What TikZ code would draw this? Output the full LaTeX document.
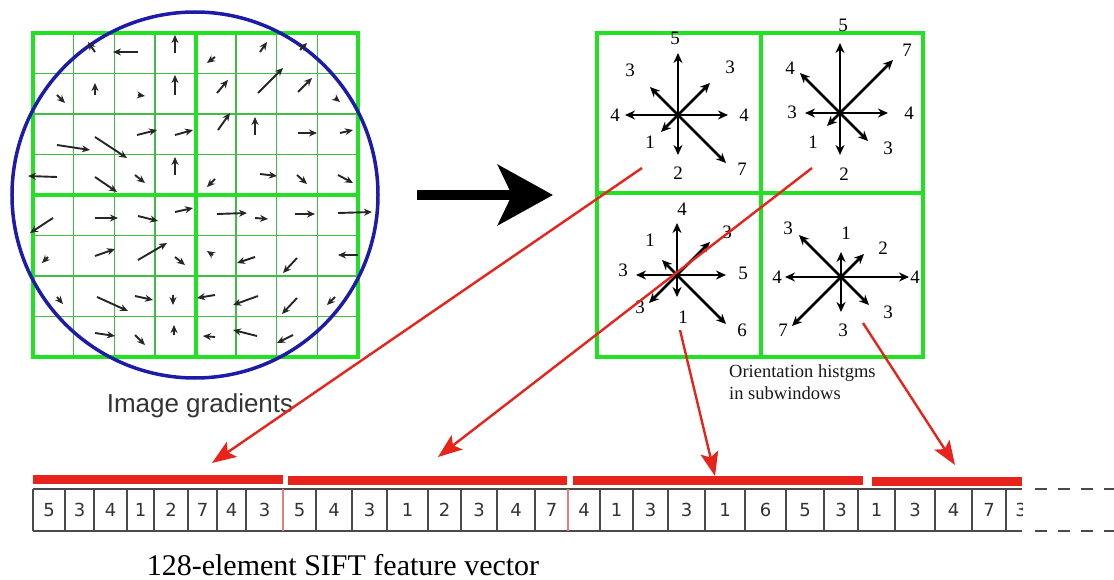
\documentclass[tikz,border=0pt]{standalone}
\usepackage{fontspec}
\setmainfont{Liberation Serif}
\newfontfamily\gradfont{Liberation Sans}
\newfontfamily\cellfont{DejaVu Sans}
\usepackage{tikz}
\usetikzlibrary{
arrows.meta
}
\definecolor{siftgreen}{HTML}{22E022}
\definecolor{siftthin}{HTML}{40BE40}
\definecolor{siftblue}{HTML}{1C1CA8}
\definecolor{siftred}{HTML}{E8231B}
\definecolor{siftgray}{HTML}{4A4A4A}

\begin{document}
\begin{tikzpicture}[
  x=1pt, y=-1pt,
  thickgrid/.style={siftgreen, line width=4pt},
  thingrid/.style={siftthin, line width=1.3pt},
  grad/.style={-{Stealth[length=8pt, width=7pt]}, line width=1.9pt, black!85},
  harrow/.style={-{Stealth[length=10pt, width=9pt]}, line width=2.8pt},
  hnum/.style={font=\fontsize{19}{19}\selectfont, inner sep=0pt},
  cell/.style={draw=siftgray, line width=1.2pt},
  cnum/.style={font=\cellfont\fontsize{18}{18}\selectfont, inner sep=0pt, text=black!80},
  redbar/.style={siftred, line width=9pt},
  redarrow/.style={-{Stealth[length=24pt, width=18pt, inset=5pt]}, siftred, line width=2.4pt}
]
\useasboundingbox (0,0) rectangle (1114,580);

% Image gradients (left window)
\foreach \k in {1,2,3,5,6,7} {
  \draw[thingrid] ({33+\k*40.625},33) -- ++(0,324);
  \draw[thingrid] (33,{33+\k*40.5}) -- ++(325,0);
}
\draw[thickgrid] (33,33) rectangle (358,357);
\draw[thickgrid] (195.5,33) -- (195.5,357);
\draw[thickgrid] (33,195) -- (358,195);
\draw[siftblue, line width=3.5pt] (195,195) circle[radius=183pt];

\foreach \ax/\ay/\bx/\by in {
  95/52/88/42, 138/52/113/52, 175/53/175/35, 215/57/207/63, 260/52/267/42, 300/50/307/43,
  57/95/65/103, 95/95/95/83, 138/95/145/96, 175/95/175/75, 217/93/228/80, 258/93/283/68, 298/92/312/78, 335/98/340/102,
  57/145/90/150, 95/137/127/158, 137/135/157/130, 175/135/193/130, 218/130/230/113, 255/135/255/117, 298/133/317/133, 340/133/353/130,
  57/177/28/176, 95/177/117/192, 135/175/145/183, 175/175/175/157, 215/179/207/187, 260/174/277/176, 297/175/307/184, 338/175/353/183,
  53/218/30/233, 95/218/118/218, 138/216/158/221, 175/212/193/208, 217/214/247/213, 255/218/268/219, 295/214/315/214, 338/213/372/212,
  48/257/42/263, 95/256/115/249, 138/260/167/243, 175/257/185/265, 213/255/207/251, 255/257/237/263, 297/258/283/273, 358/255/338/255,
  57/297/63/304, 97/297/128/311, 135/296/153/300, 173/295/173/305, 215/295/197/298, 258/296/233/305, 297/298/282/314, 335/297/327/305,
  95/333/115/336, 135/335/145/345, 174/335/174/325, 215/337/203/336, 257/336/233/330, 293/335/277/343}
  \draw[grad] (\ax,\ay) -- (\bx,\by);

\node[font=\gradfont\fontsize{26}{26}\selectfont, text=black!80, anchor=base] (imglabel) at (200,412) {Image gradients};

% Big arrow
\coordinate (bigs) at (417,195);
\coordinate (bige) at (553,195);
\draw[line width=10pt, -{Stealth[length=55pt, width=60pt, inset=14pt]}] (bigs) -- (bige);

% Orientation histograms (right window)
\draw[thickgrid] (597,33) rectangle (923,357);
\draw[thickgrid] (761,33) -- (761,357);
\draw[thickgrid] (597,193) -- (923,193);

\coordinate (hTL) at (678,115);
\coordinate (hTR) at (840,113);
\coordinate (hBL) at (677,275);
\coordinate (hBR) at (841,277);

\foreach \dx/\dy/\lx/\ly/\n [count=\i] in {0/-62/-3/-77/5, 32/-32/52/-48/3, 50/0/66/0/4, 48/48/64/54/7,
  0/40/0/58/2, -17/17/-28/27/1, -53/0/-63/0/4, -28/-28/-48/-45/3} {
  \draw[harrow] (hTL) -- ++(\dx,\dy);
  \node[hnum] (tl\i) at ([shift={(\lx,\ly)}]hTL) {\n};
}
\foreach \dx/\dy/\lx/\ly/\n [count=\i] in {0/-70/3/-88/5, 53/-53/67/-63/7, 48/0/69/0/4, 28/28/48/35/3,
  0/42/4/61/2, -13/13/-27/29/1, -35/0/-48/-1/3, -40/-40/-50/-45/4} {
  \draw[harrow] (hTR) -- ++(\dx,\dy);
  \node[hnum] (tr\i) at ([shift={(\lx,\ly)}]hTR) {\n};
}
\foreach \dx/\dy/\lx/\ly/\n [count=\i] in {0/-52/5/-66/4, 33/-33/50/-43/3, 49/0/66/-2/5, 49/49/65/55/6,
  0/22/6/42/1, -28/28/-37/32/3, -41/0/-54/-5/3, -15/-15/-27/-35/1} {
  \draw[harrow] (hBL) -- ++(\dx,\dy);
  \node[hnum] (bl\i) at ([shift={(\lx,\ly)}]hBL) {\n};
}
\foreach \dx/\dy/\lx/\ly/\n [count=\i] in {0/-25/5/-44/1, 23/-23/42/-29/2, 68/0/74/0/4, 28/28/47/35/3,
  0/35/2/53/3, -49/49/-58/53/7, -56/0/-64/0/4, -42/-42/-53/-49/3} {
  \draw[harrow] (hBR) -- ++(\dx,\dy);
  \node[hnum] (br\i) at ([shift={(\lx,\ly)}]hBR) {\n};
}

\node[font=\fontsize{18.5}{22}\selectfont, align=left, anchor=north west, inner sep=0pt, text=black!90] (orilabel) at (729,364) {Orientation histgms\\in subwindows};

% Feature vector
\draw[cell] (33,489) -- (1022,489);
\draw[cell] (33,531) -- (1022,531);
\draw[cell] (33,489) -- (33,531);
\foreach \a/\b/\d [count=\i] in {
  33/65/5, 65/94/3, 94/127/4, 127/154/1, 154/188/2, 188/217/7, 217/246/4, 246/283/3,
  283/316/5, 316/352/4, 352/387/3, 387/428/1, 428/461/2, 461/497/3, 497/535/4, 535/568/7,
  568/600/4, 600/633/1, 633/668/3, 668/705/3, 705/745/1, 745/786/6, 786/824/5, 824/858/3,
  858/895/1, 895/935/3, 935/972/4, 972/1006/7} {
  \node[cnum] (v\i) at ({(\a+\b)/2},510) {\d};
  \draw[cell] (\b,489) -- (\b,531);
}
\draw[siftred!60, line width=1.2pt] (283,489) -- (283,531);
\draw[siftred!60, line width=1.2pt] (568,489) -- (568,531);
\begin{scope}
  \clip (1006,480) rectangle (1022,540);
  \node[cnum] (v29) at (1021,510) {3};
\end{scope}
\draw[cell, dash pattern=on 12pt off 11pt] (1035,489) -- (1114,489);
\draw[cell, dash pattern=on 12pt off 11pt] (1035,531) -- (1114,531);

\node[font=\fontsize{30}{30}\selectfont, anchor=base] (veclabel) at (343,575) {128-element SIFT feature vector};

% Red bars over the vector
\draw[redbar] (33,479) -- (283,479);
\draw[redbar] (288,480) -- (567,480);
\draw[redbar] (573,480) -- (863,480);
\draw[redbar] (872,481) -- (1022,481);

% Red arrows from the histograms
\coordinate (r1s) at (642,168);
\coordinate (r1e) at (212,463);
\coordinate (r2s) at (812,168);
\coordinate (r2e) at (438,457);
\coordinate (r3s) at (680,330);
\coordinate (r3e) at (715,476);
\coordinate (r4s) at (863,323);
\coordinate (r4e) at (955,465);
\draw[redarrow] (r1s) -- (r1e);
\draw[redarrow] (r2s) -- (r2e);
\draw[redarrow] (r3s) -- (r3e);
\draw[redarrow] (r4s) -- (r4e);

\end{tikzpicture}
\end{document}
